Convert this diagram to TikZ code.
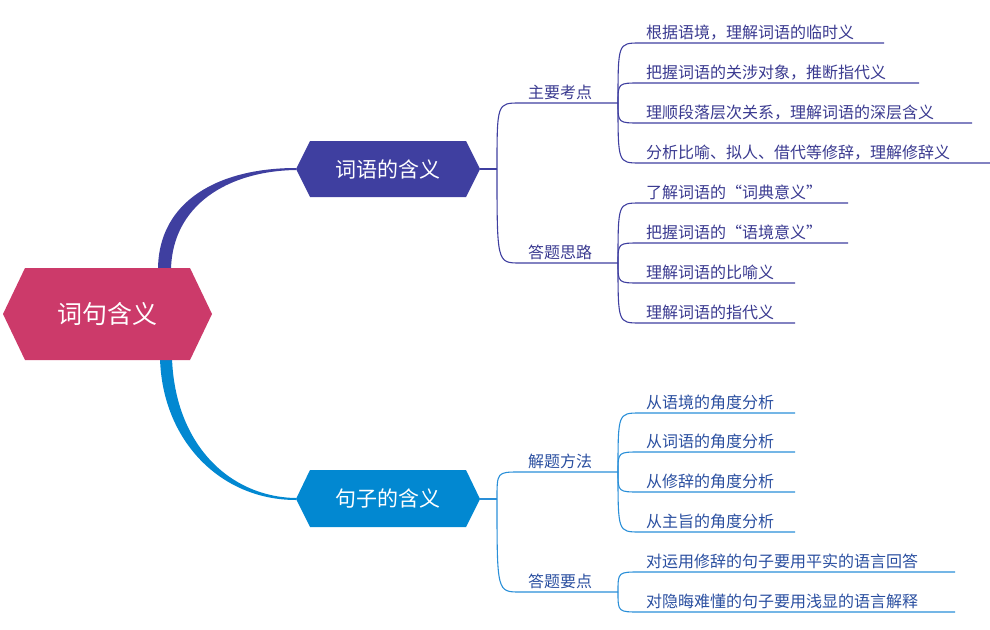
\documentclass[tikz,border=0pt]{standalone}
\usepackage{fontspec}
\setmainfont{Noto Sans CJK SC}
\begin{document}
\begin{tikzpicture}[x=1pt,y=-1pt,
  leafA/.style={anchor=south west,inner sep=0pt,text=c1t,font=\fontsize{16}{16}\selectfont},
  leafB/.style={anchor=south west,inner sep=0pt,text=c2t,font=\fontsize{16}{16}\selectfont},
  subA/.style={anchor=south,inner sep=0pt,text=c1t,font=\fontsize{16}{16}\selectfont},
  subB/.style={anchor=south,inner sep=0pt,text=c2t,font=\fontsize{16}{16}\selectfont},
  lA/.style={draw=c1,line width=1.1pt},
  lB/.style={draw=c2l,line width=1.1pt},
  hexlab/.style={text=white,inner sep=0pt}]
\definecolor{root}{HTML}{CC3A6A}
\definecolor{c1}{HTML}{3F3FA0}
\definecolor{c1t}{HTML}{3A3A90}
\definecolor{c2}{HTML}{0288D1}
\definecolor{c2l}{HTML}{2A8FD8}
\definecolor{c2t}{HTML}{2A4FA0}
\useasboundingbox (0,0) rectangle (990,629);
% root curves
\coordinate (rt) at (164,268); \coordinate (rb) at (164,360);
\coordinate (b1w) at (296,169); \coordinate (b2w) at (296,499);
\fill[c1] (158,270) .. controls (158,200) and (220,168) .. (296,168) -- (296,170) .. controls (228,171) and (172,205) .. (171,270) -- cycle;
\fill[c2] (160,358) .. controls (162,440) and (220,500) .. (296,500) -- (296,498) .. controls (230,497) and (175,445) .. (172,358) -- cycle;
% hexagons
\fill[root] (3,314) -- (25,268) -- (190,268) -- (212,314) -- (190,360) -- (25,360) -- cycle;
\node[hexlab,font=\fontsize{25}{25}\selectfont] (r) at (107,314) {词句含义};
\fill[c1] (296,169) -- (310,141) -- (466,141) -- (480,169) -- (466,197) -- (310,197) -- cycle;
\node[hexlab,font=\fontsize{21}{21}\selectfont] (b1) at (388,169) {词语的含义};
\fill[c2] (296,499) -- (310,470) -- (466,470) -- (480,499) -- (466,527) -- (310,527) -- cycle;
\node[hexlab,font=\fontsize{21}{21}\selectfont] (b2) at (388,499) {句子的含义};
% branch 1
\coordinate (f1) at (497,169);
\draw[lA] (480,169) -- (f1);
\node[subA] (s11) at (560,100) {主要考点};
\node[subA] (s12) at (560,260) {答题思路};
\coordinate (s11a) at (520,103); \coordinate (s11b) at (618,103);
\coordinate (s12a) at (520,263); \coordinate (s12b) at (618,263);
\draw[lA] (f1) .. controls (497,103) .. (s11a) -- (s11b);
\draw[lA] (f1) .. controls (497,263) .. (s12a) -- (s12b);
\foreach \y/\e/\t [count=\i] in {43/884/{根据语境，理解词语的临时义},83/919/{把握词语的关涉对象，推断指代义},123/972/{理顺段落层次关系，理解词语的深层含义},163/990/{分析比喻、拟人、借代等修辞，理解修辞义}}{
  \node[leafA] (a\i) at (646,\y-3) {\t};
  \coordinate (as\i) at (640,\y); \coordinate (ae\i) at (\e,\y);
  \draw[lA] (s11b) .. controls (618,\y) .. (as\i) -- (ae\i);
}
\foreach \y/\e/\t [count=\i] in {203/848/{了解词语的“词典意义”},243/848/{把握词语的“语境意义”},283/795/{理解词语的比喻义},323/795/{理解词语的指代义}}{
  \node[leafA] (b\i) at (646,\y-3) {\t};
  \coordinate (bs\i) at (640,\y); \coordinate (be\i) at (\e,\y);
  \draw[lA] (s12b) .. controls (618,\y) .. (bs\i) -- (be\i);
}
% branch 2
\coordinate (f2) at (497,499);
\draw[lB] (480,499) -- (f2);
\node[subB] (s21) at (560,469) {解题方法};
\node[subB] (s22) at (560,589) {答题要点};
\coordinate (s21a) at (520,472); \coordinate (s21b) at (618,472);
\coordinate (s22a) at (520,592); \coordinate (s22b) at (618,592);
\draw[lB] (f2) .. controls (497,472) .. (s21a) -- (s21b);
\draw[lB] (f2) .. controls (497,592) .. (s22a) -- (s22b);
\foreach \y/\e/\t [count=\i] in {413/795/{从语境的角度分析},452/795/{从词语的角度分析},492/795/{从修辞的角度分析},532/795/{从主旨的角度分析}}{
  \node[leafB] (c\i) at (646,\y-3) {\t};
  \coordinate (cs\i) at (640,\y); \coordinate (ce\i) at (\e,\y);
  \draw[lB] (s21b) .. controls (618,\y) .. (cs\i) -- (ce\i);
}
\foreach \y/\e/\t [count=\i] in {572/955/{对运用修辞的句子要用平实的语言回答},612/955/{对隐晦难懂的句子要用浅显的语言解释}}{
  \node[leafB] (d\i) at (646,\y-3) {\t};
  \coordinate (ds\i) at (640,\y); \coordinate (de\i) at (\e,\y);
  \draw[lB] (s22b) .. controls (618,\y) .. (ds\i) -- (de\i);
}
\end{tikzpicture}
\end{document}
